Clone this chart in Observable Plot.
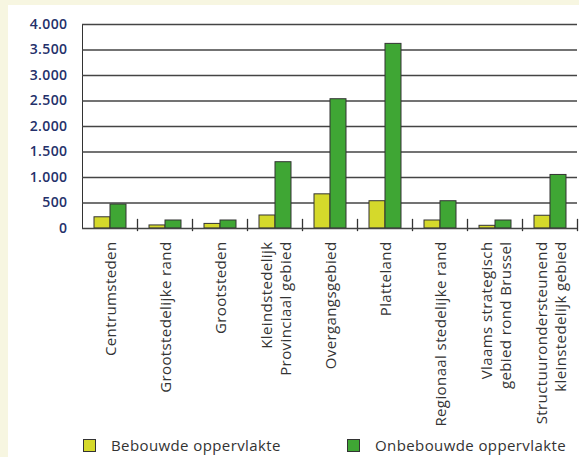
<!DOCTYPE html>
<html>
<head>
<meta charset="utf-8">
<script src="https://cdn.jsdelivr.net/npm/d3@7"></script>
<script src="https://cdn.jsdelivr.net/npm/@observablehq/plot@0.6"></script>
<style>
  html, body { margin: 0; padding: 0; }
  body { background: #f7f6e1; width: 579px; height: 457px; overflow: hidden; font-family: "Open Sans", sans-serif; }
  #panel { position: absolute; left: 8px; top: 5px; width: 571px; height: 452px; background: #fff; }
  #chart svg text { letter-spacing: 0.4px; }
  #chart svg g[aria-label="y-axis tick label"] { fill: #24306a; font-weight: 600; font-size: 14px; letter-spacing: 0.2px; }
  #legend { position: absolute; left: 0; top: 432px; width: 571px; height: 18px; font-size: 15px; color: #333; letter-spacing: 0.4px; }
  .item { position: absolute; top: 0; display: flex; align-items: center; gap: 15px; line-height: 16px; }
  .sw { width: 11px; height: 11px; border: 1.3px solid #333; display: inline-block; }
</style>
</head>
<body>
<div id="panel"><div id="chart"></div><div id="legend"></div></div>
<script>
const categories = [
  "Centrumsteden",
  "Grootstedelijke rand",
  "Grootsteden",
  "Kleindstedelijk\nProvinciaal gebied",
  "Overgangsgebied",
  "Platteland",
  "Regionaal stedelijke rand",
  "Vlaams strategisch\ngebied rond Brussel",
  "Structuurondersteunend\nkleinstedelijk gebied"
];
const seriesNames = ["Bebouwde oppervlakte", "Onbebouwde oppervlakte"];
const bebouwd   = [220, 60, 90, 255, 670, 535, 157, 53, 250];
const onbebouwd = [470, 157, 157, 1300, 2535, 3620, 535, 157, 1050];
const yTicks = [0, 500, 1000, 1500, 2000, 2500, 3000, 3500, 4000];
const colors = ["#d5d92b", "#3fa634"];

const data = [];
categories.forEach((c, i) => {
  data.push({cat: c, serie: seriesNames[0], value: bebouwd[i]});
  data.push({cat: c, serie: seriesNames[1], value: onbebouwd[i]});
});

const nl = d3.formatLocale({decimal: ",", thousands: ".", grouping: [3], currency: ["€", ""]});
const fmt = nl.format(",");

const chart = Plot.plot({
  width: 571,
  height: 423,
  marginLeft: 73,
  marginTop: 19,
  marginRight: 1,
  marginBottom: 200,
  style: {fontFamily: "Open Sans, sans-serif", fontSize: "15px", background: "transparent", color: "#333"},
  fx: {domain: categories, padding: 0, label: null},
  x: {domain: seriesNames, axis: null, paddingInner: 0, paddingOuter: 0.65},
  y: {domain: [0, 4000], ticks: yTicks, tickFormat: fmt, tickSize: 0, tickPadding: 15, label: null, line: true},
  color: {domain: seriesNames, range: colors},
  marks: [
    Plot.ruleY(yTicks.slice(1), {stroke: "#444", strokeWidth: 1.3}),
    Plot.frame({anchor: "right", insetTop: 195, insetBottom: -2, stroke: "#333", strokeWidth: 1.3}),
    Plot.barY(data, {fx: "cat", x: "serie", y: "value", fill: "serie", stroke: "#333", strokeWidth: 1}),
    Plot.ruleY([0], {stroke: "#444", strokeWidth: 1.5}),
    Plot.axisFx({anchor: "bottom", tickSize: 0, tickRotate: -90, tickPadding: 13, lineHeight: 1.3, label: null})
  ]
});
document.getElementById("chart").appendChild(chart);

const legend = document.getElementById("legend");
const lx = [75, 339];
seriesNames.forEach((s, i) => {
  const el = document.createElement("div");
  el.className = "item";
  el.style.left = lx[i] + "px";
  el.innerHTML = `<span class="sw" style="background:${colors[i]}"></span><span>${s}</span>`;
  legend.appendChild(el);
});
</script>
</body>
</html>
